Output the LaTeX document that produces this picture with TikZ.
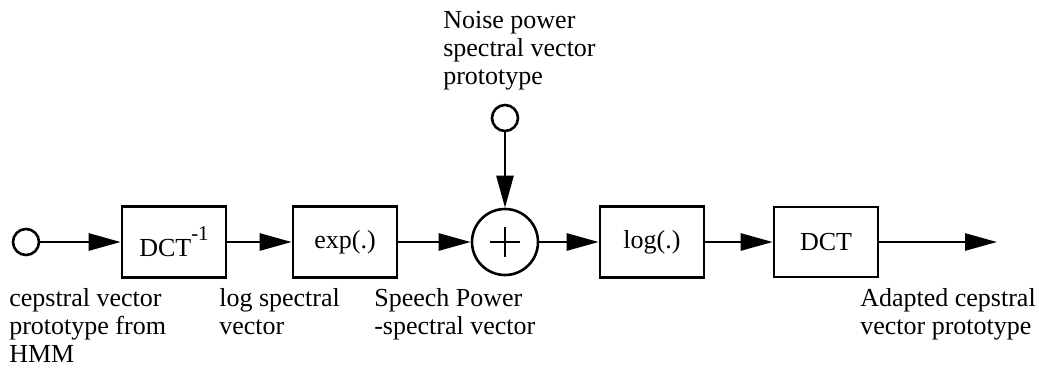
\documentclass[tikz,border=0pt]{standalone}
\usepackage{fontspec}
\setmainfont{Liberation Serif}
\usetikzlibrary{arrows.meta}
\begin{document}
\begin{tikzpicture}[x=1pt,y=-1pt,>={Triangle[length=32pt,width=17pt]},line width=2.6pt,
every node/.style={font=\fontsize{26}{28}\selectfont},
blk/.style={draw,minimum width=104pt,minimum height=71pt,inner sep=0pt},
port/.style={draw,circle,minimum size=26pt,inner sep=0pt},
lbl/.style={align=left,anchor=north west,inner sep=0pt}]
\useasboundingbox(0,0)rectangle(1039,376);
\node[port](in)at(26,242){};
\node[blk](idct)at(174,242){DCT\raisebox{0.62em}{\fontsize{21}{21}\selectfont -1}};
\node[blk](exp)at(345,242){exp(.)};
\node[draw,circle,minimum size=66pt,inner sep=0pt](sum)at(505,242){};
\draw([xshift=-15pt]sum.center)--([xshift=15pt]sum.center)
([yshift=-15pt]sum.center)--([yshift=15pt]sum.center);
\node[blk](log)at(652,242){log(.)};
\node[blk,minimum height=70pt](dct)at(826,242){DCT};
\coordinate(out)at(997,242);
\node[port](noise)at(505,118){};
\draw[->](in)--(idct);
\draw[->](idct)--(exp);
\draw[->](exp)--(sum);
\draw[->](sum)--(log);
\draw[->](log)--(dct);
\draw[->](dct)--(out);
\draw[->](noise)--(sum);
\node[lbl](cep)at(8,287){cepstral vector\\prototype from\\HMM};
\node[lbl](lsv)at(218,287){log spectral\\vector};
\node[lbl](spv)at(373,287){Speech Power\\-spectral vector};
\node[lbl](acv)at(859,287){Adapted cepstral\\vector prototype};
\node[lbl](npv)at(442,10){Noise power\\spectral vector\\prototype};
\end{tikzpicture}
\end{document}
